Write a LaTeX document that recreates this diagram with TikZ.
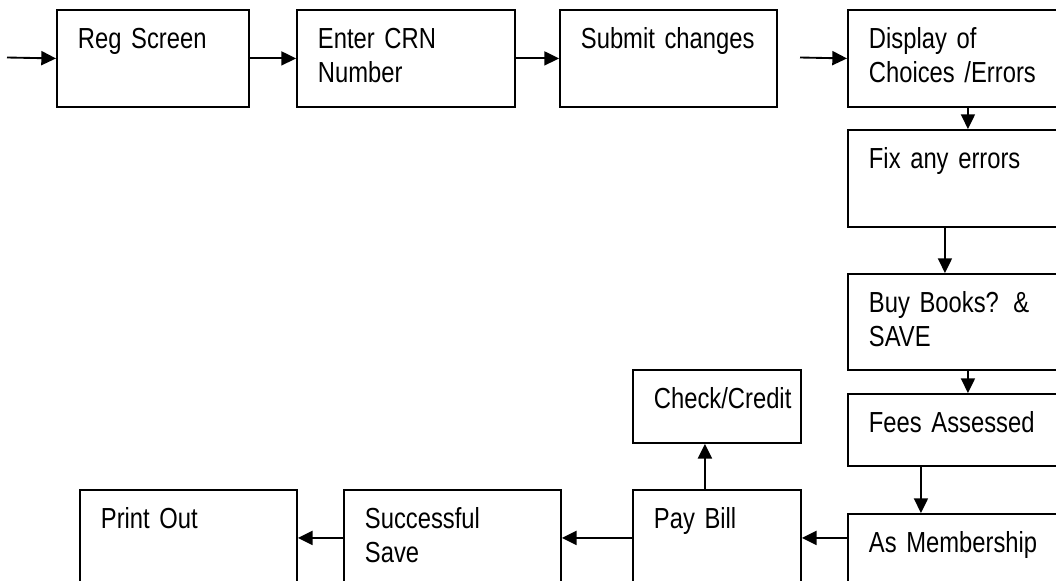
\documentclass[tikz,border=0pt]{standalone}
\usepackage{fontspec}
\setmainfont{Liberation Sans}[FakeStretch=0.82, WordSpace=0.82]
\usetikzlibrary{arrows.meta}

\begin{document}
\begin{tikzpicture}[x=0.75pt, y=-0.75pt, >={Triangle[length=11pt, width=10.5pt]},
  stage/.style={draw, line width=1.4pt, anchor=north west, align=left,
    inner xsep=15.75pt, inner ysep=0pt, text height=28.75pt,
    font=\fontsize{21.75pt}{26pt}\selectfont},
  flow/.style={->, line width=1.4pt}]
  \clip (0,0) rectangle (1056,581);

  % Top row
  \node[stage, minimum width=144pt, text width=112.5pt, text depth=44pt]
    (reg) at (56,9) {Reg Screen};
  \node[stage, minimum width=163.5pt, text width=132pt, text depth=44pt]
    (crn) at (296,9) {Enter CRN\\Number};
  \node[stage, minimum width=162.75pt, text width=131.25pt, text depth=44pt]
    (submit) at (559,9) {Submit changes};
  \node[stage, minimum width=180pt, text width=148.5pt, text depth=44pt]
    (display) at (847,9) {Display of\\Choices /Errors};

  % Right column
  \node[stage, minimum width=180pt, text width=148.5pt, text depth=44pt]
    (fix) at (847,129) {Fix any errors};
  \node[stage, minimum width=180pt, text width=148.5pt, text depth=43.25pt]
    (books) at (847,273) {Buy Books? \&\\SAVE};
  \node[stage, minimum width=180pt, text width=148.5pt, text depth=25.25pt]
    (fees) at (847,393) {Fees Assessed};
  \node[stage, minimum width=180pt, text width=148.5pt, text depth=61.25pt]
    (member) at (847,513) {As Membership};

  % Bottom row
  \node[stage, minimum width=126pt, text width=94.5pt, text depth=43.25pt]
    (paybill) at (632,489) {Pay Bill};
  \node[stage, minimum width=126pt, text width=94.5pt, text depth=26pt]
    (check) at (632,369) {Check/Credit};
  \node[stage, minimum width=162.75pt, text width=131.25pt, text depth=43.25pt]
    (success) at (343,489) {Successful\\Save};
  \node[stage, minimum width=162.75pt, text width=131.25pt, text depth=43.25pt]
    (printout) at (79,489) {Print Out};

  % Free ends
  \coordinate (start) at (7,57.5);
  \coordinate (resume) at (800,57.5);

  % Connectors
  \draw[flow] (start) -- (reg.west);
  \draw[flow] (reg.east) -- (crn.west);
  \draw[flow] (crn.east) -- (submit.west);
  \draw[flow] (resume) -- (display.west);
  \draw[flow] (display.south) -- (fix.north);
  \draw[flow] ([xshift=-17.25pt]fix.south) -- ([xshift=-17.25pt]books.north);
  \draw[flow] (books.south) -- (fees.north);
  \draw[flow] ([xshift=-35.25pt]fees.south) -- ([xshift=-35.25pt]member.north);
  \draw[flow] (member.west |- paybill.east) -- (paybill.east);
  \draw[flow] (paybill.west) -- (success.east);
  \draw[flow] (success.west) -- (printout.east);
  \draw[flow] ([xshift=-9pt]paybill.north) -- ([xshift=-9pt]check.south);

\end{tikzpicture}
\end{document}
